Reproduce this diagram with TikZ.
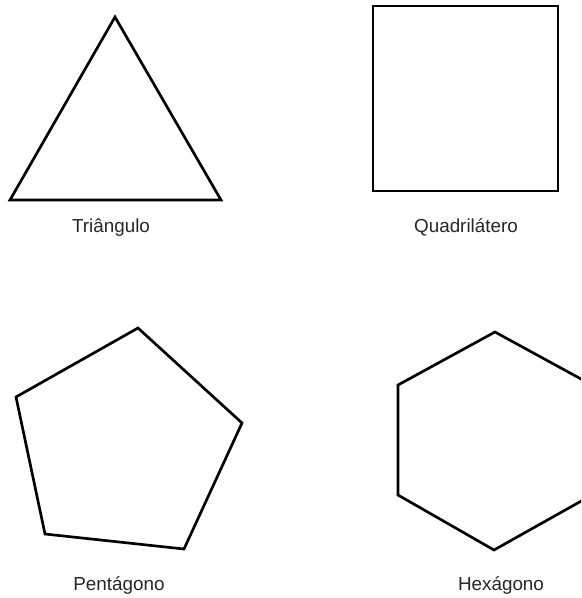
\documentclass[tikz,border=0pt]{standalone}
\usepackage{fontspec}
\setmainfont{Liberation Sans}
\usetikzlibrary{positioning}

\begin{document}
\begin{tikzpicture}[x=0.025cm,y=-0.025cm,
  outline/.style={draw=black,line width=1.9pt,line join=miter},
  caption/.style={anchor=base,text=black!85,font=\fontsize{13.4pt}{15pt}\selectfont}]
\useasboundingbox (0,0) rectangle (581,598);
\clip (0,0) rectangle (581,598);
% triangle
\draw[outline] (115,17) -- (221,200) -- (10,200) -- cycle;
\node[caption] (tri) at (111,232) {Triângulo};
% square
\draw[outline] (373,6) rectangle (558,191);
\node[caption] (quad) at (466,232) {Quadrilátero};
% pentagon
\draw[outline] (138,328) -- (242,423) -- (184,549) -- (45,534) -- (16,397) -- cycle;
\node[caption] (pent) at (119,590) {Pentágono};
% hexagon
\draw[outline] (495,332) -- (592,385) -- (592,495) -- (494,550) -- (398,495) -- (398,385) -- cycle;
\node[caption] (hex) at (501,590) {Hexágono};
\end{tikzpicture}
\end{document}
